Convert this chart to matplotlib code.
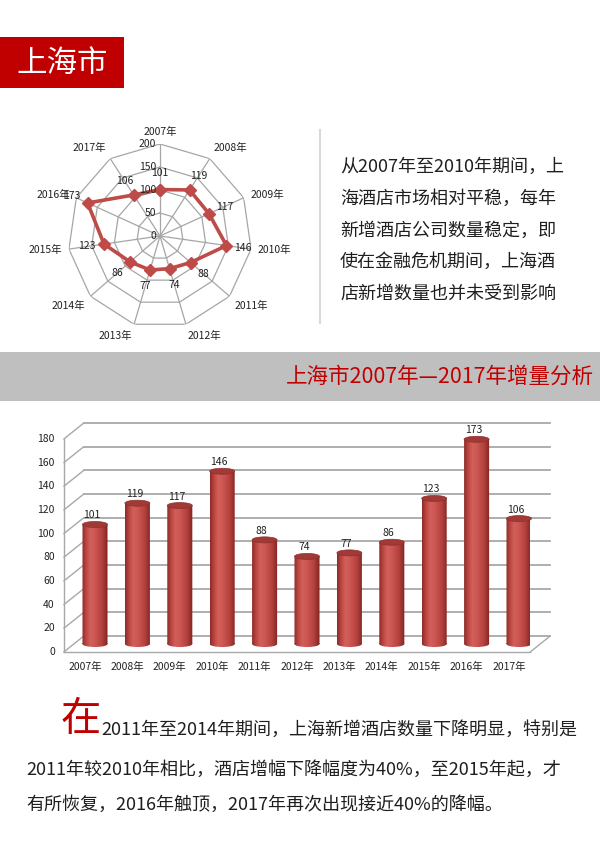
import numpy as np
import matplotlib
matplotlib.use("Agg")
import matplotlib.pyplot as plt
from matplotlib.patches import Rectangle, Ellipse, PathPatch
from matplotlib.path import Path
from matplotlib.transforms import ScaledTranslation
from matplotlib.colors import LinearSegmentedColormap

plt.rcParams['font.family'] = ['Noto Sans CJK SC', 'DejaVu Sans']

# ---------------- data ----------------
years = ['2007年', '2008年', '2009年', '2010年', '2011年', '2012年',
         '2013年', '2014年', '2015年', '2016年', '2017年']
values = [101, 119, 117, 146, 88, 74, 77, 86, 123, 173, 106]
radar_ticks = [0, 50, 100, 150, 200]
bar_ticks = [0, 20, 40, 60, 80, 100, 120, 140, 160, 180]

title_text = '上海市'
banner_text = '上海市2007年—2017年增量分析'
side_lines = ['从2007年至2010年期间，上',
              '海酒店市场相对平稳，每年',
              '新增酒店公司数量稳定，即',
              '使在金融危机期间，上海酒',
              '店新增数量也并未受到影响']
para_first = '在'
para_lines = ['2011年至2014年期间，上海新增酒店数量下降明显，特别是',
              '2011年较2010年相比，酒店增幅下降幅度为40%，至2015年起，才',
              '有所恢复，2016年触顶，2017年再次出现接近40%的降幅。']

# ---------------- figure ----------------
W, H, DPI = 600, 866, 100
fig = plt.figure(figsize=(W / DPI, H / DPI), dpi=DPI)
fig.patch.set_facecolor('white')

def fx(px):
    return px / W

def fy(py):
    return 1 - py / H

RED = '#C00000'
TXT = '#1f1f1f'

# title box
fig.patches.append(Rectangle((0, fy(88)), fx(124), 51 / H, transform=fig.transFigure,
                             facecolor=RED, edgecolor='none', zorder=0))
fig.text(fx(62), fy(63), title_text, color='white', fontsize=22, ha='center', va='center')

# side text + separator
fig.add_artist(plt.Line2D([fx(320), fx(320)], [fy(130), fy(323)], transform=fig.transFigure,
                          color='#D9D9D9', lw=1.5))
for k, line in enumerate(side_lines):
    fig.text(fx(340), fy(167 + 31.7 * k), line, color=TXT, fontsize=13, ha='left', va='center')

# banner
fig.patches.append(Rectangle((0, fy(401)), 1, 49 / H, transform=fig.transFigure,
                             facecolor='#C0BFC0', edgecolor='none', zorder=0))
fig.text(fx(594), fy(377), banner_text, color=RED, fontsize=15.5, ha='right', va='center')

# bottom paragraph
fig.text(fx(61), fy(720), para_first, color=RED, fontsize=29, ha='left', va='center')
fig.text(fx(101), fy(730), para_lines[0], color=TXT, fontsize=13, ha='left', va='center')
fig.text(fx(26), fy(770), para_lines[1], color=TXT, fontsize=13, ha='left', va='center')
fig.text(fx(26), fy(805), para_lines[2], color=TXT, fontsize=13, ha='left', va='center')

# ---------------- radar chart ----------------
R, cx, cy = 92, 160, 236
axr = fig.add_axes([fx(cx - R), fy(cy + R), 2 * R / W, 2 * R / H], projection='polar')
axr.set_theta_zero_location('N')
axr.set_theta_direction(-1)
axr.set_ylim(0, 200)
axr.grid(False)
axr.set_xticks([])
axr.set_yticks([])
axr.spines['polar'].set_visible(False)
axr.patch.set_alpha(0)

n = len(years)
theta = np.arange(n) * 2 * np.pi / n
theta_c = np.append(theta, theta[0])
GRID = '#A6A6A6'
for lvl in radar_ticks[1:]:
    axr.plot(theta_c, [lvl] * (n + 1), color=GRID, lw=0.9, zorder=1)
for t in theta:
    axr.plot([t, t], [0, 200], color=GRID, lw=0.9, zorder=1)

vals_c = values + [values[0]]
axr.plot(theta_c, vals_c, color='#BE4B48', lw=2.6, marker='D', ms=6,
         markerfacecolor='#BE4B48', markeredgecolor='#BE4B48', zorder=3)

def poff(ax, dx, dy):
    return ax.transData + ScaledTranslation(dx / DPI, dy / DPI, fig.dpi_scale_trans)

for lvl in radar_ticks:
    axr.text(0, lvl, str(lvl), transform=poff(axr, -4, 0), ha='right', va='center',
             fontsize=7.5, color='#222222', zorder=4)

for t, lab in zip(theta, years):
    s, c = np.sin(t), np.cos(t)
    ha = 'left' if s > 0.1 else ('right' if s < -0.1 else 'center')
    va = 'bottom' if c > 0.6 else ('top' if c < -0.6 else 'center')
    axr.text(t, 200, lab, transform=poff(axr, 7 * s, 7 * c), ha=ha, va=va,
             fontsize=7.5, color='#222222')

for t, v in zip(theta, values):
    s, c = np.sin(t), np.cos(t)
    axr.text(t, v, str(v), transform=poff(axr, 17 * s, 17 * c), ha='center', va='center',
             fontsize=7.5, color='#222222', zorder=4)

# ---------------- 3D-style bar chart ----------------
bx0, bx1 = 63.8, 530.2
by0, by1 = 652, 439
axb = fig.add_axes([fx(bx0), fy(by0), (bx1 - bx0) / W, (by0 - by1) / H])
axb.set_xlim(-0.5, n - 0.5)
axb.set_ylim(0, 180)
axb.axis('off')

DX, DY = 20, 16
back = poff(axb, DX, DY)
mid = poff(axb, DX / 2, DY / 2)
BG = '#A8A8A8'

for t in bar_ticks:
    axb.plot([-0.5, n - 0.5], [t, t], transform=back, color=BG, lw=1.3, clip_on=False, zorder=1)
    axb.annotate('', xy=(-0.5, t), xycoords='data', xytext=(DX, DY), textcoords='offset pixels',
                 arrowprops=dict(arrowstyle='-', color=BG, lw=1.0, shrinkA=0, shrinkB=0),
                 annotation_clip=False, zorder=1)
    axb.text(-0.5, t, str(t), transform=poff(axb, -9, 0), ha='right', va='center',
             fontsize=7.5, color='#222222')
axb.plot([-0.5, -0.5], [0, 180], color=BG, lw=1.0, clip_on=False, zorder=1)
axb.plot([-0.5, n - 0.5], [0, 0], color=BG, lw=1.0, clip_on=False, zorder=1)
axb.annotate('', xy=(n - 0.5, 0), xycoords='data', xytext=(DX, DY), textcoords='offset pixels',
             arrowprops=dict(arrowstyle='-', color=BG, lw=1.0, shrinkA=0, shrinkB=0),
             annotation_clip=False, zorder=1)

cyl = LinearSegmentedColormap.from_list('cyl', [(0.0, '#8A2A28'), (0.15, '#B9443F'),
                                                 (0.32, '#D3605C'), (0.5, '#CC5652'),
                                                 (0.78, '#B2403C'), (1.0, '#7C2321')])
grad = np.linspace(0, 1, 256).reshape(1, -1)
bw = 0.59
eh = 6 * 180 / (by0 - by1)   # ellipse height in data units (~6 px)

for i, v in enumerate(values):
    rect = Rectangle((i - bw / 2, 0), bw, v)
    ell = Ellipse((i, 0), bw, eh)
    p1 = rect.get_patch_transform().transform_path(rect.get_path())
    p2 = ell.get_patch_transform().transform_path(ell.get_path())
    body = Path.make_compound_path(p1, p2)
    clip = PathPatch(body, transform=mid, facecolor='none', edgecolor='none')
    axb.add_patch(clip)
    im = axb.imshow(grad, extent=(i - bw / 2, i + bw / 2, -eh, v), aspect='auto', cmap=cyl,
                    transform=mid, interpolation='bilinear', zorder=2)
    im.set_clip_path(clip)
    top = Ellipse((i, v), bw, eh, transform=mid, facecolor='#A13936', edgecolor='#8E302D',
                  lw=0.5, zorder=3, clip_on=False)
    axb.add_patch(top)
    axb.text(i, v, str(v), transform=poff(axb, 7, 17), ha='center', va='center',
             fontsize=7.5, color='#222222', zorder=4)
    axb.text(i, 0, years[i], transform=poff(axb, 0, -15), ha='center', va='center',
             fontsize=7.5, color='#222222')

axb.set_xlim(-0.5, n - 0.5)
axb.set_ylim(0, 180)

fig.savefig('out.png', dpi=DPI)
